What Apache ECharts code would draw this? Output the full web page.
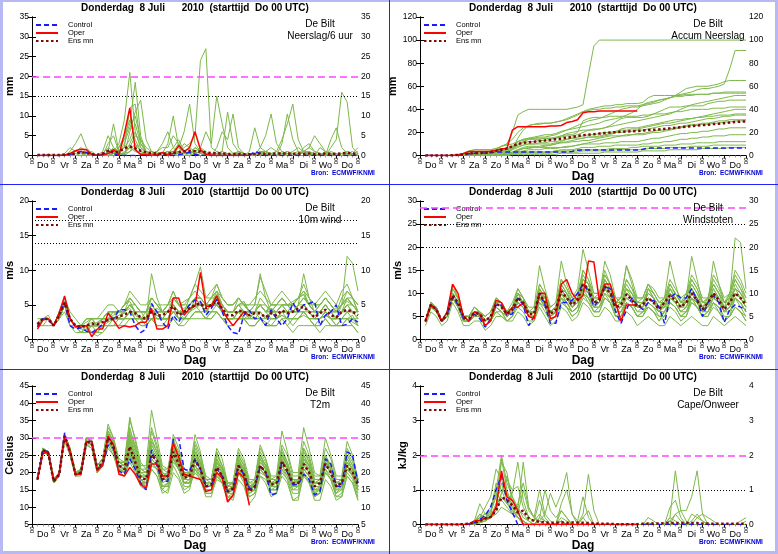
<!DOCTYPE html>
<html lang="nl">
<head>
<meta charset="UTF-8">
<title>EPS pluim De Bilt</title>
<script src="https://cdn.jsdelivr.net/npm/echarts@6/dist/echarts.min.js"></script>
</head>
<body style="margin:0;background:#fff">
<div id="main" style="width:778px;height:554px"></div>
<script>
// tijdstappen: +6 t/m +360 uur (6-uurlijks)
const hours = [];
for (let h = 6; h <= 360; h += 6) hours.push(h);
const dayNames = ['Do','Vr','Za','Zo','Ma','Di','Wo','Do','Vr','Za','Zo','Ma','Di','Wo','Do'];
const titleText = 'Donderdag  8 Juli      2010  (starttijd  Do 00 UTC)';

// ---- neerslag per 6 uur (mm)
const precipControl = [0,0,0,0, 0,0,0.3,0.5, 1,0.7,0.2,0, 0.3,1.2,0.5,0, 0,0,0,0, 0,0,0,0, 0,0,0.2,0.5, 0.8,0.3,0,0, 0,0,0,0, 0,0,0,0, 1,0.6,0,0, 0,0,0,0, 0,0,0,0, 0,0,0,0, 0,0,0,0];
const precipOper = [0,0,0,0, 0,0.1,0.5,1.2, 1.6,1.5,0.3,0, 0.1,0.5,1.5,0.1, 5.5,12,1.5,0.3, 0.2,0.1,0.2,0.8, 0.1,0.5,2.5,1, 2,6,1.5,0.3, 0.1,0,0,0, 0,0,0,0];
const precipMean = [0.1,0.1,0.1,0.1, 0.1,0.2,0.3,0.5, 0.8,0.7,0.3,0.2, 0.5,1.2,0.8,1, 1.8,2.3,1.8,1.2, 0.8,0.6,0.5,0.4, 0.5,0.6,0.8,1, 1.2,1.1,1,0.8, 0.6,0.6,0.5,0.4, 0.4,0.4,0.3,0.3, 0.4,0.5,0.4,0.4, 0.5,0.5,0.5,0.4, 0.5,0.4,0.5,0.4, 0.4,0.5,0.4,0.4, 0.5,0.7,0.5,0.3];
const precipMembers = [
  [0,0,0,0, 0,0,0.5,1, 2,1,0.5,0, 0.5,2,1,3, 9,21,6,2, 1,0.5,0,0.5, 1,1,3,1, 0.5,2,1,0.5, 0,0.5,0,0, 0,0,0.5,0, 0,1,1,0.5, 0,0.5,0,0, 0.5,1,1,0, 0,0,0.5,0, 0.5,1,0,0],
  [0,0,0,0, 0,0,0,0, 0.5,1,0,0, 0,1,0.5,2, 4,8,18.5,5, 1,0.5,1,0, 0.5,1,1,2, 3,5,24,27, 2,1,0.5,0, 0,1,0.5,0, 0,0.5,1,0, 0,0,0.5,0.5, 0,0,1,0.5, 0,0.5,0,0, 0,0,0.5,0],
  [0,0,0.3,0, 0,0.5,2,1, 1,0.5,0,0, 0,3,5,1, 0,6,11,14, 4,1,0.5,0, 0.5,2,4,1, 0.5,1,2,6, 3,15,8,2, 0.5,1,0.5,0, 0,0.5,1,0.5, 0,1,0.5,1, 2,1,0.5,0, 0,0.5,1,0.5, 0,0.5,0,0],
  [0,0,0,0, 0,0,1,3, 5.5,2,0.5,0, 0,1,8,1, 2,12,13,3, 1,0.5,1,2, 2,5,3,1, 0.5,1,2,1, 0,0.5,1,11, 3,1,0.5,0, 0,0.5,0,0.5, 1,0.5,0,0, 0,1,2,1, 0.5,0,0,0.5, 0,1,0.5,0],
  [0,0,0,0, 0,0,0,0, 0,0.5,1,0, 0,0.5,2,0.5, 3,7,10,4, 1,0.5,0,0.5, 1,0.5,2,6, 13,3,1,0.5, 0,1,0.5,0, 0.5,0,0,0.5, 0,2,5,10.5, 3,1,0.5,0, 0.5,1,0.5,0, 2,1,0.5,0, 0,0.5,1,0],
  [0,0,0,0, 0,0,0,0.5, 1,0.5,0,0, 0,0.5,1,2, 5,9,4,1, 0.5,1,0.5,0, 0,0.5,1,0.5, 0.5,1,0.5,0, 0,0.5,1,0.5, 0,0,0.5,0, 0.5,0,1,2, 1,4,8,13, 4,1,0.5,0, 0,1,0.5,0, 0.5,0,0,0.5],
  [0,0,0,0, 0,0,0.5,0, 0,0,0.5,0, 0,0.5,0.5,1, 2,4,8,3, 1,0.5,0,0.5, 1,0.5,0.5,0, 0,2,1,0.5, 0.5,0,0.5,0, 0,0.5,0,0, 0,1,0.5,0, 0,0.5,1,0.5, 0,2,3,1, 0.5,0,2,4, 16,13.5,2,0.5],
  [0,0,0,0, 0,0,0,0, 0,0.5,0,0, 1,5,2,0.5, 0.5,3,6,2, 0.5,0.5,1,3, 6,2,0.5,0, 0,0.5,1,0.5, 0,2,6,4, 10.5,2,0.5,0, 0,0.5,1,0.5, 0,0,0.5,0.5, 1,0.5,0,0, 0,0.5,0,0, 0,0,0.5,1],
  [0,0,0,0, 0,0,0,0, 0,0,0.5,0, 0,0.5,0,0.5, 0.5,2,5,4, 2,1,0.5,0, 0,0.5,0,0.5, 1,0.5,0,0, 0,0.5,0,0.5, 0,0.5,0,1, 7,2,1,0.5, 0,0.5,1,0.5, 0,0,0.5,0, 0.5,0,4,7, 2,0.5,0,0],
  [0,0,0,0, 0,0,0,0, 0,0,0,0, 0,0,0.5,0.5, 0.5,1,2,3, 1,0.5,0,0.5, 3,10,2,0.5, 0,0.5,1,0, 0.5,0,0,0.5, 0,1,0.5,0, 0.5,0,0.5,0, 0,3,10.5,4, 1,0.5,0,0.5, 0,1,0.5,0, 0,0.5,0,0],
  [0,0,0,0, 0,0.3,0,0, 0,0.5,0,0, 0,0,0.5,0, 1,2,1,0.5, 0.5,0,0,0.5, 0,0.5,1,3, 2,1,0.5,0, 0,0,0.5,0, 0,0.5,0,0, 0.5,1,0.5,0, 0,0,0.5,0, 0,1,2,5, 3,1,0.5,0, 0,0,0.5,2],
  [0,0,0,0, 0,0,0,0, 0,0,0,0, 0,0,0,0.5, 0,1,3,1, 0.5,0,0,0, 0.5,0,0,0, 0,0.5,0,0, 0,0,0,0.5, 0,0,0,0, 0,0.5,0,0, 0,0,0,0.5, 0,0,0,0, 0,0.5,0,0, 0,0,0,0]
];

// ---- geaccumuleerde neerslag (mm)
const accumControl = [0,0,0,0, 0,0,0.3,0.8, 1.5,2,2.2,2.2, 2.5,3,3,3, 3,3,3,3, 3,3,3,3, 3,3,3,3.5, 4.5,4.8,4.8,4.8, 4.8,4.8,4.8,4.8, 4.8,4.8,4.8,4.8, 5.5,6.5,6.5,6.5, 6.5,6.5,6.5,6.5, 6.5,6.5,6.5,6.5, 6.5,6.5,6.5,6.5, 6.5,6.5,6.5,6.5];
const accumOper = [0,0,0,0, 0,0.1,0.6,1.8, 3.4,3.5,3.5,3.5, 3.7,4.3,5.8,6, 22,25,25,25, 25,25,25,25.5, 25.5,26,28.5,29.5, 31,37,38,38, 38.5,38.5,38.5,38.5, 38.5,38.5,38.5,38.5];
const accumMean = [0,0,0,0, 0,0.2,0.5,1, 1.5,2,2.2,2.4, 2.8,4,5,6, 8,10,11,11.5, 12,12.5,13,13.5, 14,14.5,15.5,16, 17,17.5,18,18.5, 19,19.5,20,20.2, 20.5,20.8,21,21.2, 21.6,22,22.3,22.6, 23,23.5,24,24.5, 25,25.5,26,26.3, 26.7,27.2,27.6,28, 28.5,29,29.3,29.6];
const accumMembers = [
  [0,0,0,0, 0,0,0,1, 2,3,3,3, 4,5,8,10, 20,35,38,40, 40,40,40,40, 40,40,40,41, 42,44,70,95, 100,100,100,100, 100,100,100,100, 100,100,100,100, 100,100,100,100, 100,100,100,100, 100,100,100,100, 100,100,100,100],
  [0,0,0,0, 0,0,0,0, 1,2,2,2, 3,4,5,6, 7,9,12,14, 15,16,16,17, 18,20,22,24, 26,28,30,31, 32,34,36,38, 40,41,42,42, 43,44,45,46, 48,50,52,53, 54,55,57,58, 58,59,60,62, 75,91,91,91],
  [0,0,0,0, 0,0,0,0, 0,1,1,1, 1,2,4,5, 8,12,14,15, 16,17,18,18, 19,21,22,23, 24,25,26,27, 28,30,31,32, 33,35,37,40, 44,46,47,48, 49,50,52,55, 58,59,60,60, 60,61,62,64, 65,65,65,65],
  [0,0,0,0, 0,0,0,0, 0,0,0,0, 0,1,2,2, 5,15,22,26, 27,28,28,28, 29,30,31,33, 35,38,40,41, 42,43,43,44, 44,45,45,45, 46,50,52,52, 52,52,52,52, 53,53,53,53, 53,54,54,54, 54,54,54,54],
  [0,0,0,0, 0,0,0.5,1, 3,5,5,5, 5,6,8,9, 10,12,13,14, 14,14,15,15, 15,16,17,17, 18,20,22,22, 23,24,26,29, 32,33,33,33, 33,34,36,38, 40,42,42,42, 43,43,43,43, 45,46,47,47, 48,48,48,48],
  [0,0,0,0, 0,0,0,0, 0,0,0,0, 0,1,2,3, 6,12,14,15, 15,15,15,15, 16,17,18,18, 20,30,32,33, 33,33,34,34, 34,34,34,34, 35,35,36,36, 36,37,38,38, 39,40,40,40, 40,41,41,41, 42,42,42,42],
  [0,0,0,0, 0,0,0,0, 0,0,0,0, 0,0,1,1, 3,5,7,8, 8,8,9,9, 10,12,14,15, 15,15,16,16, 16,17,18,20, 23,24,24,24, 25,26,27,28, 29,30,31,31, 32,32,33,33, 34,34,35,35, 35,36,36,36],
  [0,0,0,0, 0,0,0,0.5, 1,1,1,1, 1,2,3,4, 5,7,9,10, 10,10,10,10, 11,11,11,12, 12,13,13,14, 15,16,17,17, 17,17,18,18, 18,19,20,20, 21,22,23,24, 25,26,26,27, 27,28,28,29, 29,30,30,30],
  [0,0,0,0, 0,0,0,0, 0,0,0,0, 0,0,0,1, 2,4,6,7, 7,7,7,7, 7,7,8,8, 9,10,10,10, 10,11,11,11, 12,12,12,12, 13,14,15,15, 16,17,18,19, 19,20,20,21, 21,22,23,23, 24,24,24,24],
  [0,0,0,0, 0,0,0,0, 0,0,0,0, 0,0,0,0, 1,2,3,3, 3,3,3,3, 4,5,5,5, 6,7,7,7, 8,8,8,9, 9,9,9,9, 10,10,11,11, 12,12,13,14, 14,15,15,16, 16,17,17,17, 18,18,18,18],
  [0,0,0,0, 0,0,0,0, 0,0,0,0, 0,0,1,1, 2,3,3,3, 3,3,3,3, 4,4,4,4, 5,5,5,5, 5,5,6,6, 6,6,7,7, 8,8,8,8, 9,9,9,10, 10,10,11,11, 11,11,12,12, 12,12,12,12],
  [0,0,0,0, 0,0,0,0, 0,0,0,0, 0,0,0,0, 1,1,1,1, 1,1,1,1, 1,2,2,2, 2,2,2,2, 2,3,3,3, 3,3,3,3, 4,4,4,4, 4,5,5,5, 5,5,5,6, 6,6,6,6, 7,7,7,7],
  [0,0,0,0, 0,0,0.5,2, 4,5,5,5, 5,6,8,10, 14,20,24,26, 27,27,28,28, 29,30,32,34, 36,38,39,40, 40,41,41,42, 42,43,43,43, 44,45,46,48, 49,50,51,51, 52,52,53,53, 53,54,54,55, 55,55,55,55],
  [0,0,0,0, 0,0,0,0, 0,1,1,1, 2,3,5,6, 8,10,11,12, 12,13,13,14, 15,17,19,20, 21,22,22,23, 23,24,25,26, 27,28,29,30, 31,32,33,34, 35,36,38,40, 42,44,45,46, 47,48,49,50, 51,52,52,52],
  [0,0,0,0, 0,0,0,0.5, 1,2,2,2, 2,3,4,5, 6,8,9,10, 10,11,11,12, 12,13,14,15, 16,17,18,18, 19,20,20,21, 22,22,23,23, 24,25,26,27, 28,28,29,30, 31,32,33,34, 35,36,37,38, 39,40,40,40],
  [0,0,0,0, 0,0,0,0, 0,0,0,0, 0,0,1,2, 3,5,6,6, 7,7,8,9, 10,11,12,13, 14,15,16,16, 17,18,19,20, 20,21,21,22, 22,23,24,25, 26,26,27,28, 28,29,30,31, 32,32,33,34, 34,35,35,35],
  [0,0,0,0, 0,0,0,0, 0,0,0,0, 0,0,0,1, 2,3,4,5, 5,5,6,6, 6,7,7,8, 9,10,11,12, 13,14,15,16, 17,18,18,19, 19,20,21,22, 22,23,24,25, 26,27,27,28, 28,29,30,30, 31,31,31,31],
  [0,0,0,0, 0,0,0,0, 0,0,0,0, 0,0,0,0, 1,1,2,2, 2,2,2,2, 3,3,3,3, 3,4,4,4, 4,4,4,5, 5,5,5,5, 5,6,6,6, 6,7,7,7, 7,8,8,8, 8,9,9,9, 9,9,9,9]
];

// ---- 10m wind (m/s)
const windControl = [1.8,3,2.8,2, 3.5,5.3,2,1.5, 1.7,1.2,1,1.5, 2.2,3,3,4.3, 4.3,4,2,1, 1.5,5.2,4,2.5, 1.5,3.5,2.5,4, 5,5.7,5.5,3.5, 4.5,5.8,4,2, 1,0.8,3.5,4.2, 3,3.2,2,4.3, 3,2,3,5.3, 4,5,5.2,5.5, 2,3.5,4,5, 2,2.2,3,2.5];
const windOper = [1.5,2.8,3,2, 3.8,6.3,3,1.8, 2,2,0.4,1.5, 1.5,3.8,2.8,1.6, 2,1.8,2,2.5, 2.5,4.5,1.5,1.5, 2,6,6,3.5, 4.5,4.8,9.7,4.8, 4.8,6.3,4.3,3, 2,3,4,3.5];
const windMean = [2.2,3,3,2, 3.5,5.3,3,2, 1.8,2,2.3,2.2, 2.5,2.8,3,3.3, 3.6,4,3.8,3.2, 3,4,3.5,3.5, 4,4.8,3.5,4, 4.5,5,5.2,4.5, 5,5.5,4.5,3.5, 3.5,4.2,4,3.5, 3.8,3.8,3.2,3.8, 3.5,4.2,3.8,4, 4.5,4.7,4,3.2, 3.8,4.3,3.5,3.2, 4,4.3,4,3.5];
const windMembers = [
  [2,3,3,2, 3,5,3,2, 2,2,2.5,2, 3,3,3.5,4, 4,5,4,3, 3,4,4.5,4, 5,5,4,4.5, 5,6,6,5, 5,6.5,5,4, 4,5,5.5,4, 4,5,4,4.5, 4,5,5,5, 6,6.5,5,4, 4,5,4,4.5, 5,5.5,5,4],
  [2,3,3,2, 4,6,3,2, 2,2.5,3,2, 2,3,3,3.5, 4,4.5,3,3, 2,3,3.5,3, 3,4,3,3, 4,4.5,5,4, 5,5,4,3, 3,4,3,3.5, 3,3,2,3, 3,3.5,3,3, 4,4,3,2, 3,3.5,3,2, 3,3,3.5,2],
  [2.5,3,3,2, 3,5.5,3,2, 1,1.5,1,1, 2,3,3,4, 5,5.5,4,3, 4,6,5,4, 5,7,5,5.5, 6,8,10.5,6, 6,7,5,4, 4,5,5.5,4, 4,5,4,5, 5,6,5,5.5, 6,6.5,5,4, 5,6,5,4, 6,7,6,4],
  [2,3,3.5,2, 3,5,3,2, 2,2,2,2.5, 3,3,4,4, 4,5,4,3, 3,4,3,3, 4,5,4,4, 4,5,5.5,4, 5,6,5,4, 4,5,4,4, 4,4,3,4, 4,5,4,4, 5,5,4,3, 4,5,4,3, 5,12,11,7],
  [2,2,2,2, 3,4,2,1, 1,1,1,0.5, 1,2,2,2, 2,3,3,2, 2,3,2,2, 2,3,2,2, 3,3,3,3, 3,4,3,2, 2,3,3,2, 2,3,2,2, 2,3,2,1, 2,2,2,2, 1,2,2,2, 2,2,2,1],
  [3,3,3,2, 4,6,4,3, 2,3,3,3, 4,5,5,4, 5,6,5,4, 4,6,5,5, 5,6,5,5, 6,7,6,5, 6,8,6,5, 5,6,5,5, 5,9,7,5, 5,6,5,5, 6,8,6,5, 5,6,5,4, 5,6,5,4],
  [2,3,3,2, 3,5,3,2, 2,2,1,1, 2,2,3,3, 3,4,4,3, 3,9.5,6,4, 4,5,3,3, 4,5,5,4, 5,5,4,3, 3,4,4,3, 4,4,3,4, 4,4,4,4, 5,9.5,6,4, 4,4,3,3, 4,4,4,3],
  [2,3,3,2, 3,5,3,2, 2,2,2,2, 2,3,3,3, 4,5,4,3, 3,3,3,3, 4,4,3,4, 4,5,5,5, 5,5,4,3, 3,4,4,3, 4,3,3,4, 3,4,4,4, 4,4,4,3, 3,4,3,3, 4,5,4,4],
  [2,3,3,2, 4,6,3,2, 2,3,3,3, 3,4,4,4, 4,5,4,4, 4,4,4,4, 5,7,5,5, 5,6,6,5, 6,6,5,4, 4,5,5,4, 5,5,4,5, 5,5,5,5, 4,5,4,4, 4,5,4,4, 4,5,5,4],
  [2,2,3,2, 3,5,2,2, 1,1,2,2, 2,2,2,3, 3,3,3,3, 2,3,3,3, 3,4,3,3, 3,4,4,3, 4,4,3,2, 2,3,3,3, 3,3,2,2, 2,3,2,3, 3,4,3,2, 2,3,2,2, 3,3,3,2],
  [2,3,3,2, 3,5,3,2, 2,2,2,2, 3,4,4,4, 5,6,5,4, 3,5,4,3, 3,5,4,4, 5,6,5,5, 6,7,6,5, 5,6,5,4, 5,9.5,6,4, 4,5,4,5, 6,7,5,4, 4,5,4,3, 4,6,5,4],
  [2,3,3,2, 3,5,3,2, 1,2,2,1, 1,2,2,2, 3,3,3,2, 2,3,2,2, 3,3,2,3, 3,4,4,3, 4,4,3,3, 3,3,3,2, 2,3,2,2, 2,3,3,2, 3,4,3,2, 2,3,2,2, 2,3,2,1],
  [2,3,3,2, 3,5,3,2, 2,2,2,2, 2,3,4,4, 4,5,5,4, 4,5,4,4, 4,6,5,4, 5,6,5,4, 5,6,5,4, 4,5,4,4, 4,5,5,4, 5,6,5,4, 5,6,5,5, 5,6,5,4, 5,6,6,5],
  [2,3,3,2, 3,5,3,2, 2,2,2,2, 3,4,3,3, 3,4,3,3, 3,4,3,3, 3,4,4,3, 4,5,4,4, 4,5,4,3, 3,4,3,3, 3,4,3,3, 3,4,3,3, 3,4,3,3, 3,4,3,3, 3,4,3,3],
  [2,3,3,2, 3,5.5,3,2, 2,3,3,2, 3,4,4,3, 4,6,5,4, 4,6,5,4, 5,6,5,4, 6,8,7,6, 7,8,6,5, 5,6,5,5, 6,7,6,5, 6,7,6,5, 6,7,6,5, 6,7,6,5, 7,8,6,5],
  [2,3,3,2, 3,5,3,2, 1.5,1.5,2,2, 2,2.5,3,3, 3,4,3.5,3, 3,4,3.5,3, 3,4,3,3, 3,4,4,3, 3,4,3,3, 3,3,3,2, 2,3,2.5,2, 3,3.5,3,3, 3,3.5,3,3, 3,3.5,3,2, 2,3,2.5,2],
  [2,3,3,2, 4,5.5,3,2, 2,2,2,2, 3,3,3,3, 4,5,4,4, 4,5,4,4, 4,5,4,4, 5,6,6,5, 5,6,5,4, 4,4,4,4, 4,5,4,4, 4,5,5,4, 5,6,5,4, 4,5,4,4, 5,6,5,4],
  [2,3,3,2, 3,5,3,2, 2,2,3,3, 3,4,4,4, 5,7,6,5, 5,6,5,4, 4,5,4,4, 4,5,5,4, 5,5,4,4, 4,4,4,4, 4,5,4,4, 4,4,4,4, 4,5,4,4, 4,5,4,4, 4,5,4,4],
  [2,3,3,2, 3,5,3,2, 2,2,2,2, 2,3,3,3, 3,4,4,3, 3,4,4,4, 4,5,4,4, 4,5,5,4, 5,6,5,4, 4,5,4,4, 4,5,4,3, 3,4,4,4, 4,5,4,3, 3,4,3,3, 3,4,4,3],
  [2,3,3,2, 3,5,3,2, 2,2,2,2, 3,3,3,3, 3,4,4,3, 3,5,4,3, 3,5,4,4, 4,6,5,4, 5,7,5,4, 4,6,5,4, 4,6,5,4, 5,6,5,4, 5,6,5,4, 5,6,5,4, 5,7,6,4]
];

// ---- windstoten (m/s)
const gustControl = [3.8,7.5,6.5,3.8, 5.5,9.3,7.5,4.5, 4,5.5,4.5,2.7, 4.5,7.5,7.5,5.3, 5.5,9,7.5,3, 5,10,7.5,3.5, 3.5,8,8,8.5, 10,12,10.5,7.2, 8.5,11.5,11,6, 3.5,6.5,9,7.5, 6.5,8,8.5,7, 3.5,9,10,9, 9,11,8.5,5, 8,9.5,8,3.7, 6.5,7.5,7,6.5];
const gustOper = [4,7.5,6.5,4, 6,12,10,5, 4,6,5.5,3, 4,8.5,8,5.5, 7,7,8,5, 4.5,10,10,4.5, 5,12,13,10, 8.5,9.5,17,16.8, 8.5,12,12,8, 4,7.5,7.5,7.5];
const gustMean = [4,7.5,6.5,4, 5.5,9.5,8,4.8, 4.5,5.8,5.5,4, 5,7.8,7,5.5, 6.5,9,8,5.5, 5.5,10,8,5.5, 6.5,10.5,9,7.5, 8.5,12,11,8, 8.5,11.5,10,7, 7.5,9.8,8.5,7, 7.5,9,8,6.5, 8,9.5,8.5,7, 8,10,8.5,6.5, 8,10,8.5,6.5, 8,10,9,7.5];
const gustMembers = [
  [4,8,7,4, 6,10,8,5, 5,6,6,4, 5,8,7,6, 7,10,8,6, 6,11,9,6, 7,12,10,8, 9,13,12,8, 9,12,10,7, 8,11,9,7, 8,10,9,7, 8,11,9,7, 9,12,10,7, 8,11,9,6, 9,11,10,8],
  [4,7,6,4, 5,9,7,4, 4,5,5,3, 4,7,6,5, 6,8,7,5, 5,9,7,5, 6,9,8,6, 7,10,9,7, 7,10,8,6, 6,8,7,5, 6,7,6,5, 6,8,7,5, 6,8,7,5, 6,8,6,4, 5,7,6,5],
  [4,8,7,4, 6,12,9,5, 5,7,6,5, 6,9,8,6, 8,11,9,6, 7,16,11,7, 8,17,12,9, 11,19.5,15,10, 10,14,12,8, 9,16,13,9, 9,12,10,8, 9,11,10,8, 10,13,11,8, 9,12,10,7, 10,14,12,9],
  [4,7,6,4, 5,9,8,5, 4,5,5,3, 4,6,6,5, 6,8,7,5, 5,9,7,4, 5,9,7,6, 7,11,9,6, 7,9,8,5, 6,8,7,5, 6,7,6,4, 6,8,7,5, 6,9,7,5, 6,8,7,4, 5,7,6,4],
  [4,8,7,4, 6,10,9,5, 5,6,6,4, 5,8,8,6, 7,10,9,6, 6,11,9,6, 7,11,10,8, 10,13,12,8, 9,17,14,9, 8,10,9,8, 8,10,9,7, 9,17,12,8, 8,11,9,7, 9,12,10,8, 9,22,21,11],
  [4,7,6,4, 5,9,7,4, 4,5,5,3, 4,7,6,4, 5,8,7,5, 5,9,7,5, 6,10,8,7, 8,11,10,7, 8,11,9,6, 7,9,8,6, 7,8,7,6, 7,9,8,6, 7,10,8,6, 7,9,8,6, 7,9,8,6],
  [3,6,5,3, 4,8,6,3, 3,4,4,2, 3,5,5,4, 4,6,5,3, 4,7,5,3, 4,7,6,4, 5,8,7,5, 5,7,6,4, 4,6,5,3, 4,5,4,3, 3,5,4,3, 4,5,4,3, 3,5,4,3, 4,5,4,3],
  [4,8,7,4, 6,10,8,5, 5,6,6,5, 6,8,7,6, 7,9,8,6, 6,10,8,6, 7,11,10,8, 9,13,12,9, 9,12,10,8, 8,11,10,8, 8,9,8,7, 8,10,9,7, 9,18,13,8, 8,10,9,7, 8,11,10,8],
  [4,7,7,4, 6,9,8,5, 5,6,6,4, 5,8,7,6, 6,9,8,5, 5,10,8,5, 6,10,9,7, 8,12,11,8, 8,12,10,7, 7,10,9,7, 7,9,8,6, 8,10,9,7, 8,10,9,6, 8,17,12,8, 9,13,11,8],
  [4,8,6,4, 5,9,8,5, 4,6,5,4, 5,8,7,5, 6,9,8,5, 5,10,8,5, 6,11,9,7, 8,12,11,8, 8,12,10,7, 8,10,9,7, 7,9,8,6, 8,10,8,6, 7,10,8,6, 8,10,8,6, 7,10,9,7],
  [4,7,6,4, 5,9,8,5, 4,6,5,4, 5,8,7,5, 6,10,8,5, 6,10,8,5, 6,10,9,7, 8,12,10,8, 9,13,11,8, 9,16,12,8, 8,11,9,7, 8,10,9,7, 8,10,9,7, 8,10,9,7, 8,10,9,7],
  [4,8,7,4, 5,10,8,5, 5,6,6,4, 5,8,7,5, 6,9,8,6, 6,10,9,6, 7,11,9,7, 8,12,11,8, 8,11,10,7, 7,10,9,7, 8,10,9,7, 7,9,8,6, 7,9,8,6, 7,9,8,6, 7,9,8,6],
  [4,8,7,4, 6,11,9,5, 5,7,6,4, 5,9,8,6, 7,11,9,6, 6,12,10,6, 7,13,11,8, 9,15,13,9, 10,15,12,8, 9,13,11,8, 9,12,10,8, 9,12,10,8, 9,13,11,8, 9,13,11,8, 10,13,11,9],
  [4,7,6,4, 5,9,7,4, 4,5,5,3, 4,7,6,4, 5,8,7,5, 5,8,7,4, 5,8,7,5, 6,9,8,6, 6,9,8,5, 5,8,7,5, 5,7,6,4, 5,7,6,4, 5,8,7,5, 5,7,6,4, 5,7,6,4],
  [4,8,7,4, 6,10,8,5, 5,6,6,4, 5,8,7,5, 6,9,8,6, 6,11,9,6, 7,12,10,7, 9,14,12,9, 9,13,11,8, 8,12,10,8, 8,11,10,8, 8,12,10,8, 9,12,10,8, 8,12,10,8, 8,12,10,8],
  [4,7,6,4, 5,9,8,5, 4,6,5,4, 5,8,7,5, 6,9,8,5, 5,9,8,5, 6,10,8,6, 7,11,10,7, 8,11,10,7, 7,10,9,7, 7,10,9,7, 7,10,9,7, 7,10,9,7, 7,10,9,6, 7,10,9,7],
  [4,7,7,4, 5,10,8,5, 5,6,6,4, 5,8,8,6, 7,10,9,6, 6,10,9,6, 6,11,9,7, 8,12,11,8, 8,13,11,8, 8,11,10,7, 7,11,9,7, 7,11,9,7, 8,11,9,7, 7,11,9,7, 8,11,9,7],
  [4,7,6,4, 5,9,7,4, 4,5,5,3, 4,6,5,4, 5,7,6,4, 4,8,6,4, 5,8,7,5, 6,10,8,6, 6,9,8,5, 5,8,7,5, 5,8,7,5, 5,8,7,5, 5,9,7,5, 5,8,7,5, 5,9,7,5],
  [4,8,7,4, 6,11,9,5, 5,7,6,5, 6,9,8,6, 7,10,9,7, 7,12,10,7, 8,13,11,9, 10,15,13,10, 10,14,12,9, 9,13,11,9, 9,12,11,9, 9,13,11,9, 10,14,12,9, 9,14,12,9, 10,15,13,10],
  [4,7,6,4, 5,9,7,4, 4,6,5,4, 5,7,6,5, 6,8,7,5, 5,9,7,5, 6,9,8,6, 7,10,9,7, 7,10,9,6, 6,9,8,6, 6,8,7,6, 6,9,8,6, 6,9,8,6, 6,9,8,6, 6,9,8,6]
];

// ---- temperatuur 2m (Celsius)
const t2mControl = [18,26.5,26,17.5, 19.5,31.5,26,19.5, 19.5,29,29,21, 22,28,27,20.5, 19.5,24,21,17, 15,26.5,22,17.5, 17.5,29.5,30,21, 20.5,24,21,16, 16,21,19,14.5, 15,22,19.5,15.5, 15.5,22,20,13.5, 14,23.5,20,16.5, 16.5,19.5,18,13.5, 14.5,24,22.5,16, 16,26,25,17];
const t2mOper = [18,25.5,26,17.5, 19.5,30.5,26,19.5, 19.5,29,29,20.5, 22,30.5,28,19.5, 19,21.5,19.5,16.5, 15.5,22.5,22.5,19, 19,28.5,24.5,19.5, 19,18.5,18,14.5, 15,20,18.5,11.5, 13.5,20,18.5,10.5];
const t2mMean = [18,26.5,25.5,17.5, 19.5,30.5,26,19.5, 20,29,28.5,21, 23,30,27.5,22, 21,27.5,23,18.5, 18,25,23.5,18, 19,26,22.5,18.5, 19,23.5,21,16, 16.5,21.5,19,14.5, 15.5,22,19.5,14.5, 16,22,20,16.5, 17,23,20.5,17, 17,22.5,20,16, 17,22.5,20,16, 17,22,20,16.5];
const t2mMembers = [
  [18,27,26,18, 20,31,27,20, 20.5,30,29.5,22, 24,32,29,23, 23,33,27,21, 21,33,28,21, 21,28,24,19, 20,27,23,18, 18,26,22,17, 17,25,22,16, 17,24,21,17, 18,27,23,18, 18,25,22,17, 18,24,21,16, 17,23,21,17],
  [18,26,25,17, 19,30,25,19, 19,28,27,20, 22,28,25,20, 19,23,20,16, 15,21,19,14, 15,22,19,15, 16,21,18,14, 14,19,17,12, 13,20,17,13, 14,19,18,15, 15,20,18,14, 14,20,17,13, 14,21,18,14, 15,20,18,13],
  [18,27,26,18, 20,31,26,20, 21,30,29,22, 24,33,30,24, 23,36,29,22, 22,38,30,22, 21,30,25,20, 19,26,22,17, 17,24,21,16, 16,23,21,15, 17,25,22,18, 18,26,22,18, 17,24,21,15, 15,23,20,15, 16,22,19,15],
  [18,26,25,18, 19,30,26,19, 20,29,28,21, 23,29,27,22, 21,28,23,18, 17,24,22,17, 18,27,24,19, 20,29,25,19, 18,23,20,15, 15,21,18,13, 14,20,19,16, 17,24,21,17, 18,27,23,18, 18,25,22,17, 18,25,22,18],
  [18,26,26,17, 19,31,26,19, 20,29,28,21, 23,31,28,21, 20,25,21,17, 16,22,21,16, 17,23,21,17, 18,22,20,15, 15,21,19,14, 14,22,20,15, 16,23,21,17, 17,22,19,15, 15,21,19,14, 16,23,21,16, 17,22,20,16],
  [18,27,25,17, 20,30,26,20, 20,29,28,21, 22,30,27,22, 21,27,23,19, 19,27,24,19, 20,27,23,18, 20,31,26,18, 18,26,22,17, 17,24,20,15, 16,22,20,16, 16,24,21,17, 18,25,22,17, 17,21,19,14, 16,23,21,17],
  [18,26,25,17, 19,30,26,19, 20,29,28,21, 22,30,27,21, 20,26,22,17, 17,25,23,18, 18,24,21,17, 17,22,19,15, 15,20,17,13, 12,18,16,11, 13,19,17,13, 14,21,18,12, 13,19,17,12, 12,18,16,12, 13,19,17,12],
  [18,26,25,18, 20,31,26,20, 20,29,28,21, 23,31,28,22, 22,30,25,20, 20,28,25,19, 19,26,23,19, 19,25,22,17, 17,24,21,16, 17,26,23,17, 18,28,24,18, 19,32,26,20, 20,33,27,20, 19,30,25,19, 19,29,25,18],
  [18,27,26,18, 19,29,25,19, 20,28,27,20, 22,27,25,20, 19,24,21,17, 17,26,24,19, 20,31,27,21, 20,26,23,17, 16,22,20,15, 16,21,19,14, 15,24,22,17, 17,23,21,18, 18,22,20,16, 16,24,22,17, 18,27,24,18],
  [18,26,26,17, 19,30,27,20, 21,30,29,22, 24,32,28,22, 20,29,24,18, 16,24,22,16, 16,25,22,17, 17,21,19,14, 14,18,17,13, 14,21,19,15, 17,25,22,18, 18,25,22,16, 16,21,19,15, 15,20,18,13, 14,21,19,15],
  [18,26,25,17, 19,30,26,19, 20,29,28,21, 23,29,26,21, 20,26,22,17, 15,23,21,15, 17,24,22,18, 19,24,21,16, 16,21,19,14, 15,21,19,15, 16,21,19,15, 16,22,20,16, 17,23,21,17, 17,23,21,16, 17,21,19,16],
  [18,27,26,18, 20,31,27,20, 20,30,29,21, 23,31,28,23, 22,31,26,20, 19,29,26,20, 19,27,24,19, 19,24,22,16, 16,22,20,15, 15,24,21,16, 17,25,22,17, 18,24,21,17, 17,24,22,17, 18,23,21,16, 16,22,20,15],
  [18,26,26,18, 20,30,26,20, 20,29,28,21, 23,30,28,22, 21,29,24,19, 18,27,24,18, 19,25,22,18, 18,23,21,16, 16,22,19,14, 15,23,20,15, 16,21,19,16, 16,21,19,15, 16,23,20,15, 16,22,20,16, 16,24,21,16],
  [18,27,26,18, 20,31,26,19, 20,30,29,22, 24,34,30,23, 22,31,27,21, 20,29,26,19, 18,24,21,16, 16,20,18,13, 13,19,17,12, 13,20,18,14, 15,23,21,17, 17,26,23,18, 18,26,23,17, 17,25,22,17, 17,24,21,16],
  [18,26,25,17, 19,30,26,19, 20,29,28,20, 22,29,26,21, 20,27,23,18, 18,28,25,19, 19,29,26,20, 20,28,24,18, 17,24,21,15, 15,23,20,15, 15,22,20,16, 16,25,22,17, 17,21,19,14, 14,22,20,15, 15,23,21,16],
  [18,26,26,17, 19,31,27,20, 20,29,29,21, 23,31,29,23, 23,35,30,23, 21,30,26,20, 19,24,21,17, 17,22,20,15, 15,23,21,16, 17,25,22,16, 17,26,23,18, 18,25,22,17, 17,27,24,18, 18,24,21,16, 16,21,19,14],
  [18,26,25,18, 19,30,26,19, 20,29,28,21, 23,30,27,22, 21,27,23,18, 17,23,21,16, 16,26,23,17, 17,25,22,16, 16,25,22,16, 16,25,22,17, 17,21,19,14, 14,19,17,12, 12,20,18,13, 14,20,18,13, 13,19,17,12],
  [18,27,26,18, 20,31,27,20, 21,30,29,22, 24,32,29,23, 22,30,25,19, 19,26,24,19, 20,27,24,19, 19,26,23,18, 18,27,24,17, 17,27,24,18, 18,27,24,19, 19,28,25,19, 19,29,25,19, 19,27,24,18, 18,26,23,18],
  [18,26,25,17, 19,30,26,19, 20,28,28,20, 22,29,27,21, 20,25,22,17, 16,21,19,15, 14,20,18,14, 15,22,20,15, 15,20,18,13, 13,21,19,15, 16,24,21,17, 17,23,21,16, 16,24,22,17, 17,23,21,16, 16,22,20,15],
  [18,26,26,18, 20,30,26,20, 20,29,28,21, 23,31,28,22, 22,32,28,21, 20,32,27,21, 20,26,23,18, 18,24,21,16, 16,23,20,15, 16,24,21,16, 16,22,20,15, 15,24,21,16, 16,21,19,14, 15,24,22,17, 17,25,22,17]
];

// ---- CAPE (kJ/kg)
const capeControl = [0,0,0,0, 0,0,0,0, 0,0.05,0.15,0.25, 0.5,1,1.4,0.7, 0.35,0,0,0, 0,0,0,0, 0,0,0,0, 0,0,0,0, 0,0,0,0, 0,0,0,0, 0,0,0,0, 0,0,0,0, 0,0,0,0, 0,0,0,0, 0,0,0,0];
const capeOper = [0,0,0,0, 0,0,0,0, 0.02,0.1,0.12,0.18, 0.2,0.5,1.55,0.8, 0.7,0.4,0,0, 0,0,0,0, 0,0,0,0, 0,0,0,0, 0,0,0,0, 0,0,0,0];
const capeMean = [0,0,0,0, 0,0,0,0.01, 0.02,0.05,0.1,0.17, 0.22,0.4,0.78,0.72, 0.55,0.35,0.4,0.18, 0.1,0.08,0.06,0.05, 0.05,0.06,0.05,0.06, 0.06,0.05,0.04,0.03, 0.02,0.02,0.02,0.01, 0.01,0.01,0.01,0.01, 0.02,0.02,0.03,0.03, 0.04,0.04,0.04,0.04, 0.05,0.04,0.04,0.03, 0.03,0.02,0.02,0.02, 0.02,0.02,0.02,0.02];
const capeMembers = [
  [0,0,0,0, 0,0,0,0, 0,0.1,0.2,0.3, 0.5,1,2,1.2, 0.8,0.5,0.2,0.1, 0,0,0,0, 0,0.1,0,0, 0,0,0,0, 0,0,0,0, 0,0,0,0, 0,0,0,0, 0,0,0,0, 0,0,0,0, 0,0,0,0, 0,0,0,0],
  [0,0,0,0, 0,0,0,0, 0,0.05,0.3,0.2, 0.4,0.8,1.8,1.5, 0.6,0.3,0.1,0, 0,0.2,0.1,0, 0,0.1,0,0, 0,0.2,0,0, 0,0,0,0, 0,0,0,0, 0,0,0,0, 0,0.1,0,0, 0,0,0,0, 0,0,0,0, 0,0,0,0],
  [0,0,0,0, 0,0,0,0, 0,0.1,0.6,0.3, 0.3,1.2,1,0.6, 0.9,1.8,0.7,0.2, 0.1,0.3,0.1,0, 0,0.2,0.1,0, 0,0,0,0, 0,0,0,0, 0,0,0,0, 0,0.05,0,0, 0,0.1,0,0, 0,0,0,0, 0,0,0,0, 0,0,0,0],
  [0,0,0,0, 0,0,0,0, 0,0,0.1,0.2, 0.3,0.5,0.9,1.3, 1,1.1,0.5,0.2, 0.1,0.7,0.2,0, 0,0.1,0,0, 0,0,0,0, 0,0,0,0, 0,0,0,0, 0,0,0,0, 0,0,0,0, 0,0,0,0, 0,0,0,0, 0,0,0,0],
  [0,0,0,0, 0,0,0,0, 0,0.1,0.2,0.5, 0.8,1.6,1.3,0.9, 0.4,0.2,0.1,0, 0,0,0,0, 0,0.6,1,0.3, 0.1,0.8,0.2,0, 0,0,0,0, 0,0,0,0, 0,0.2,0.1,0, 0,0.2,0.1,0, 0,0,0,0, 0,0,0,0, 0,0,0,0],
  [0,0,0,0, 0,0,0,0, 0,0,0.1,0.1, 0.2,0.4,0.8,0.6, 0.4,0.3,1,0.4, 0.2,1,0.3,0.1, 0,0.4,0.2,0, 0,0.2,0.4,0, 0,0,0,0, 0,0,0,0, 0,0,0,0, 0,0.5,0.7,0.2, 0,0.1,0.3,0.1, 0,0,0,0, 0,0,0,0],
  [0,0,0,0, 0,0,0,0, 0,0.05,0.2,0.3, 0.2,0.6,1.2,0.7, 0.3,0.2,0.1,0, 0,0.1,0.3,0.9, 0.5,0.9,1.5,0.3, 0,0.3,1.45,0.4, 0,0,0,0, 0,0,0,0, 0,0,0,0, 0,0.1,0.3,0.4, 0.4,0.8,1.55,0.3, 0,0,0,0, 0,0,0,0.1],
  [0,0,0,0, 0,0,0,0, 0,0,0.05,0.1, 0.2,0.5,1.9,1, 0.5,0.2,0,0, 0,0,0,0, 0,0,0,0, 0,0,0,0, 0,0,0,0, 0,0,0,0, 0,0,0,0, 0,0.2,1.55,0.4, 0.1,0,0,0, 0,0,0,0, 0,0,0,0],
  [0,0,0,0, 0,0,0,0, 0,0.1,0.3,0.2, 0.3,0.9,0.7,0.5, 0.3,0.6,1.2,0.5, 0.2,0.1,0,0, 0,0,0,0, 0,0,0,0, 0,0,0,0, 0,0,0,0, 0,0,0,0, 0,0,0,0, 0,0,0.2,0.3, 0.2,0.1,0,0, 0,0,0,0],
  [0,0,0,0, 0,0,0,0, 0,0,0.1,0.2, 0.4,0.8,1,0.9, 0.7,0.4,0.3,0.1, 0,0.2,1,0.4, 0.2,0.4,0.2,0, 0,0,0,0, 0,0,0,0, 0,0,0,0, 0,0,0,0, 0,0,0,0, 0,0.3,0.2,0.1, 0,0,0,0, 0,0,0.1,0.2],
  [0,0,0,0, 0,0,0,0, 0,0,0.1,0.15, 0.2,0.3,0.5,0.4, 0.3,0.2,0.1,0, 0,0,0,0, 0,0,0,0, 0,0,0,0, 0,0,0,0, 0,0,0,0, 0,0,0,0, 0,0,0,0, 0,0,0,0, 0,0,0,0, 0,0,0,0],
  [0,0,0,0, 0,0,0,0, 0,0.02,0.05,0.1, 0.2,0.5,0.9,1.4, 0.8,0.4,1.8,0.5, 0.2,0.1,0,0, 0,0.1,0,0, 0,0,0,0, 0,0,0,0, 0,0,0,0, 0,0,0,0, 0,0,0.3,0.1, 0,0,0,0, 0,0,0,0, 0,0,0,0]
];

// drempels
const precipWarn = [20], precipRef = [15];
const windRef = [10.8, 13.9, 17.2];
const gustWarn = [28.5], gustRef = [20, 25];
const t2mWarn = [30], t2mRef = [25];
const capeWarn = [2], capeRef = [1];

const panels = [
  {col:0,row:0, label:'Neerslag/6 uur', unit:'mm', min:0, max:35, step:5, members:precipMembers, control:precipControl, oper:precipOper, mean:precipMean, warn:precipWarn, ref:precipRef},
  {col:1,row:0, label:'Accum Neerslag', unit:'mm', min:0, max:120, step:20, members:accumMembers, control:accumControl, oper:accumOper, mean:accumMean, warn:[], ref:[]},
  {col:0,row:1, label:'10m wind', unit:'m/s', min:0, max:20, step:5, members:windMembers, control:windControl, oper:windOper, mean:windMean, warn:[], ref:windRef},
  {col:1,row:1, label:'Windstoten', unit:'m/s', min:0, max:30, step:5, members:gustMembers, control:gustControl, oper:gustOper, mean:gustMean, warn:gustWarn, ref:gustRef},
  {col:0,row:2, label:'T2m', unit:'Celsius', min:5, max:45, step:5, members:t2mMembers, control:t2mControl, oper:t2mOper, mean:t2mMean, warn:t2mWarn, ref:t2mRef},
  {col:1,row:2, label:'Cape/Onweer', unit:'kJ/kg', min:0, max:4, step:1, members:capeMembers, control:capeControl, oper:capeOper, mean:capeMean, warn:capeWarn, ref:capeRef}
];

const colX = [0, 388];
const rowY = [0, 184, 369];
const pts = arr => arr.map((v, i) => [hours[i], v]);

const option = {
  animation: false,
  backgroundColor: '#fff',
  textStyle: {fontFamily: 'Liberation Sans'},
  title: [], legend: [], grid: [], xAxis: [], yAxis: [], series: [],
  graphic: [
    {type:'rect', shape:{x:1.5, y:0.5, width:775, height:552}, style:{fill:null, stroke:'#b8b8f4', lineWidth:3}, silent:true},
    {type:'line', shape:{x1:389.5, y1:0, x2:389.5, y2:554}, style:{stroke:'#2222ff', lineWidth:1}, silent:true},
    {type:'line', shape:{x1:0, y1:184.5, x2:778, y2:184.5}, style:{stroke:'#2222ff', lineWidth:1}, silent:true},
    {type:'line', shape:{x1:0, y1:369.5, x2:778, y2:369.5}, style:{stroke:'#2222ff', lineWidth:1}, silent:true}
  ]
};

panels.forEach((p, k) => {
  const ox = colX[p.col], oy = rowY[p.row];
  option.grid.push({left: ox + 32, top: oy + 17, width: 326, height: 138.5});

  // as met "00" per dag
  option.xAxis.push({
    gridIndex: k, type: 'value', position: 'bottom', min: 0, max: 360, interval: 24,
    axisLine: {lineStyle: {color: '#000'}},
    axisTick: {length: 3, lineStyle: {color: '#000'}},
    minorTick: {show: true, splitNumber: 4, length: 2, lineStyle: {color: '#999'}},
    splitLine: {show: false},
    axisLabel: {rotate: 90, fontSize: 6, margin: 2, color: '#000', formatter: () => '00'}
  });
  // dagnamen
  option.xAxis.push({
    gridIndex: k, type: 'value', position: 'bottom', min: 0, max: 360, interval: 12,
    axisLine: {show: false}, axisTick: {show: false}, splitLine: {show: false},
    axisLabel: {fontSize: 9, margin: 5.5, color: '#000', formatter: v => (v % 24 === 12 ? dayNames[(v - 12) / 24] : '')},
    name: 'Dag', nameLocation: 'middle', nameGap: 12,
    nameTextStyle: {fontSize: 12, fontWeight: 'bold', color: '#000'}
  });

  const yBase = {
    gridIndex: k, type: 'value', min: p.min, max: p.max, interval: p.step,
    splitLine: {show: false},
    axisLine: {show: true, lineStyle: {color: '#000'}},
    axisTick: {show: true, length: 4, lineStyle: {color: '#000'}},
    axisLabel: {fontSize: 8.5, color: '#000', margin: 3}
  };
  option.yAxis.push(Object.assign({}, yBase, {
    position: 'left', name: p.unit, nameLocation: 'middle', nameGap: 11.5, nameRotate: 90,
    nameTextStyle: {fontSize: 11, fontWeight: 'bold', color: '#000'}
  }));
  option.yAxis.push(Object.assign({}, yBase, {position: 'right'}));

  const ax = {xAxisIndex: 2 * k, yAxisIndex: 2 * k, type: 'line', symbol: 'none', silent: true};
  p.members.forEach(m => {
    option.series.push(Object.assign({}, ax, {data: pts(m), lineStyle: {color: '#7db84a', width: 1}, z: 2}));
  });
  option.series.push(Object.assign({}, ax, {
    name: 'Control', data: pts(p.control), z: 3,
    lineStyle: {color: '#1a1aff', width: 1.5, type: [5, 3]},
    markLine: {
      symbol: 'none', silent: true, label: {show: false},
      data: p.warn.map(v => ({yAxis: v, lineStyle: {color: '#ff44ff', width: 1.5, type: [7, 4]}}))
        .concat(p.ref.map(v => ({yAxis: v, lineStyle: {color: '#000', width: 1, type: [1, 2]}})))
    }
  }));
  option.series.push(Object.assign({}, ax, {name: 'Oper', data: pts(p.oper), z: 4, lineStyle: {color: '#ff0000', width: 1.5}}));
  option.series.push(Object.assign({}, ax, {name: 'Ens mn', data: pts(p.mean), z: 5, lineStyle: {color: '#7a0c0c', width: 2.5, type: [2.5, 2.5]}}));

  option.legend.push({
    data: ['Control', 'Oper', 'Ens mn'], left: ox + 35, top: oy + 21, orient: 'vertical',
    itemWidth: 22, itemHeight: 6, itemGap: 0, padding: 0, selectedMode: false,
    itemStyle: {opacity: 0},
    textStyle: {fontSize: 7.5, color: '#000', padding: [0, 0, 0, 5]}
  });

  option.title.push({
    text: titleText, left: ox + 195, top: oy + 3.5, textAlign: 'center', padding: 0,
    textStyle: {fontSize: 10, fontWeight: 'bold', color: '#000'}
  });
  option.title.push({
    text: 'De Bilt', subtext: p.label, left: ox + 320, top: oy + 19, textAlign: 'center', padding: 0, itemGap: 2,
    textStyle: {fontSize: 10, fontWeight: 'normal', color: '#000'},
    subtextStyle: {fontSize: 10, color: '#000'}
  });
  option.graphic.push({
    type: 'text', left: ox + 311, top: oy + 170, silent: true,
    style: {text: 'Bron:  ECMWF/KNMI', fill: '#0000dd', font: 'bold 6.5px Liberation Sans'}
  });
});

const chart = echarts.init(document.getElementById('main'), null, {renderer: 'canvas'});
chart.setOption(option);
</script>
</body>
</html>
